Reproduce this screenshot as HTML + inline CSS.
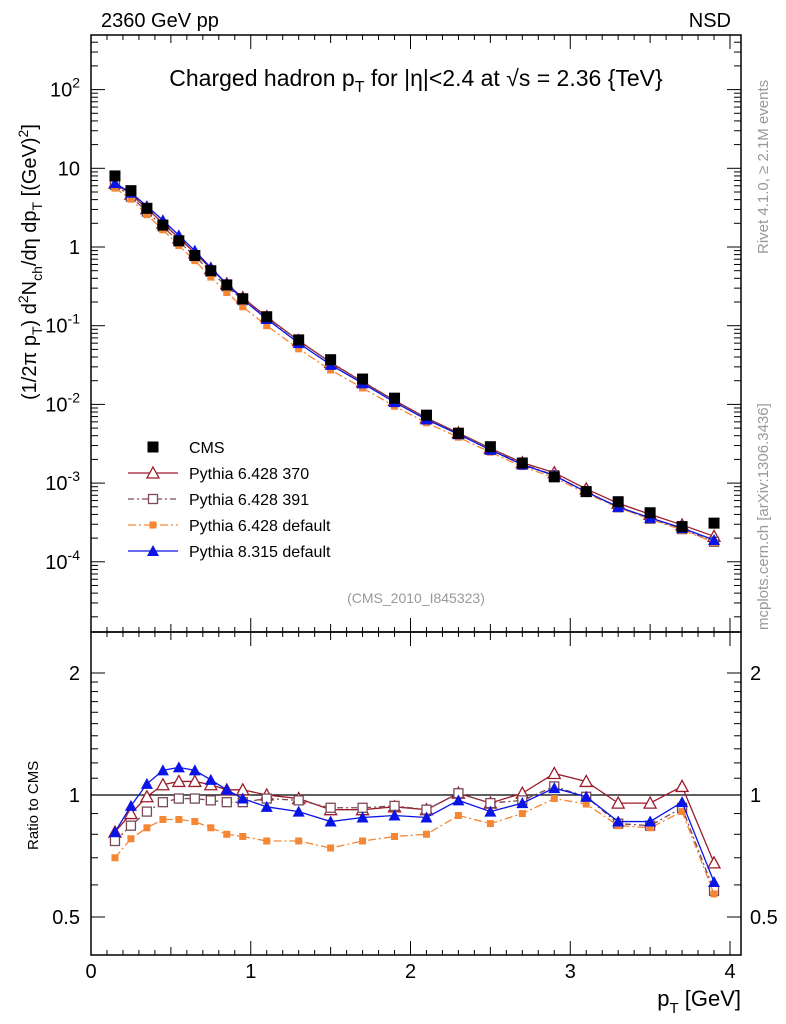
<!DOCTYPE html>
<html><head><meta charset="utf-8"><style>
body{margin:0;background:#fff}
svg{display:block;font-family:"Liberation Sans",sans-serif}
</style></head><body>
<svg id="c" width="786" height="1024" xmlns="http://www.w3.org/2000/svg"></svg>
<script>
const pt=[0.15,0.25,0.35,0.45,0.55,0.65,0.75,0.85,0.95,1.1,1.3,1.5,1.7,1.9,2.1,2.3,2.5,2.7,2.9,3.1,3.3,3.5,3.7,3.9];
const cms=[8,5.2,3.1,1.9,1.2,0.78,0.5,0.33,0.22,0.13,0.066,0.037,0.021,0.012,0.0073,0.0043,0.0029,0.0018,0.0012,0.00078,0.00058,0.00042,0.00028,0.00031];
const r370=[0.81,0.90,0.99,1.06,1.08,1.08,1.06,1.03,1.03,1.0,0.98,0.92,0.92,0.935,0.92,1.01,0.955,1.01,1.13,1.08,0.955,0.955,1.05,0.68];
const r391=[0.77,0.84,0.91,0.96,0.98,0.98,0.97,0.96,0.96,0.98,0.97,0.93,0.93,0.94,0.92,1.01,0.955,0.97,1.05,0.99,0.85,0.84,0.93,0.58];
const rdef=[0.70,0.78,0.83,0.87,0.87,0.86,0.83,0.80,0.79,0.77,0.77,0.74,0.77,0.79,0.80,0.89,0.85,0.90,0.98,0.95,0.84,0.83,0.91,0.57];
const r8=[0.81,0.94,1.065,1.15,1.17,1.15,1.09,1.03,0.98,0.935,0.91,0.86,0.88,0.89,0.88,0.97,0.91,0.955,1.04,0.99,0.86,0.86,0.96,0.61];
const xTicks=[0,1,2,3,4];
const yExp=[-4,-3,-2,-1,0,1,2];
const rTicks=[0.5,1,2];

const S=document.getElementById('c'),NS='http://www.w3.org/2000/svg';
function el(t,a,txt,p){const e=document.createElementNS(NS,t);for(const k in a)e.setAttribute(k,a[k]);if(txt!=null)e.textContent=txt;(p||S).appendChild(e);return e;}
const L=91,R=741,T=35,M=632,B=955;
const X=v=>L+v*159.75;
const Y=v=>247-Math.log10(v)*78.7;
const YR=v=>795-Math.log2(v)*122;

let f1=el('rect',{x:L,y:T,width:R-L,height:M-T,fill:'none',stroke:'#000','stroke-width':1.5});

let f2=el('rect',{x:L,y:M,width:R-L,height:B-M,fill:'none',stroke:'#000','stroke-width':1.5});


for(let i=0;i<=40;i++){const v=i/10,x=X(v);if(x>R)break;const len=i%10==0?14:(i%5==0?8:5);
 for(const [yb,ym] of [[M,T],[B,M]]){el('line',{x1:x,y1:yb,x2:x,y2:yb-len,stroke:'#000'});el('line',{x1:x,y1:ym,x2:x,y2:ym+len,stroke:'#000'});}}
xTicks.forEach(v=>{let t=el('text',{x:X(v),y:978,'font-size':20,'text-anchor':'middle'},String(v));});

for(let e=-5;e<=2;e++)for(let m=1;m<10;m++){const v=m*Math.pow(10,e),y=Y(v);if(y<T||y>M)continue;const len=m==1?14:7;
 el('line',{x1:L,y1:y,x2:L+len,y2:y,stroke:'#000'});el('line',{x1:R,y1:y,x2:R-len,y2:y,stroke:'#000'});}
yExp.forEach(e=>{const y=Y(Math.pow(10,e));let t;
 if(e==0)t=el('text',{x:80,y:y+7,'font-size':20,'text-anchor':'end'},'1');
 else if(e==1)t=el('text',{x:80,y:y+7,'font-size':20,'text-anchor':'end'},'10');
 else{t=el('text',{x:80,y:y+7,'font-size':20,'text-anchor':'end'});el('tspan',{},'10',t);el('tspan',{dy:-9,'font-size':14},String(e),t);}
 });

for(const v of [0.5,0.6,0.7,0.8,0.9,1,1.1,1.2,1.3,1.4,1.5,1.6,1.7,1.8,1.9,2]){const y=YR(v),len=(v==0.5||v==1||v==2)?14:7;
 el('line',{x1:L,y1:y,x2:L+len,y2:y,stroke:'#000'});el('line',{x1:R,y1:y,x2:R-len,y2:y,stroke:'#000'});}
rTicks.forEach(v=>{const y=YR(v);
 let t=el('text',{x:80,y:y+7,'font-size':20,'text-anchor':'end'},String(v));
 let t2=el('text',{x:750,y:y+7,'font-size':20},String(v));});
el('line',{x1:L,y1:YR(1),x2:R,y2:YR(1),stroke:'#000','stroke-width':1.2});

function tx(x,y,s,txt,name,extra){let t=el('text',Object.assign({x:x,y:y,'font-size':s},extra||{}),txt);return t;}
tx(101,27,20,'2360 GeV pp','title-left');
tx(731,27,20,'NSD','title-right',{'text-anchor':'end'});
let tt=tx(416,86,23,'','plot-title',{'text-anchor':'middle'});
tt.innerHTML='Charged hadron p<tspan dy="6" font-size="16">T</tspan><tspan dy="-6"> for |η|&lt;2.4 at √s = 2.36 {TeV}</tspan>';
tx(416,603,14,'(CMS_2010_I845323)','analysis-id',{'text-anchor':'middle',fill:'#999'});
let xt=tx(741,1006,22,'','x-axis-title',{'text-anchor':'end'});
xt.innerHTML='p<tspan dy="7" font-size="15">T</tspan><tspan dy="-7"> [GeV]</tspan>';
let yt=tx(0,0,20,'','y-axis-title',{transform:'translate(36,400) rotate(-90)'});
yt.innerHTML='(1/2π p<tspan dy="6" font-size="14">T</tspan><tspan dy="-6">) d</tspan><tspan dy="-8" font-size="14">2</tspan><tspan dy="8">N</tspan><tspan dy="6" font-size="14">ch</tspan><tspan dy="-6">/dη dp</tspan><tspan dy="6" font-size="14">T</tspan><tspan dy="-6"> [(GeV)</tspan><tspan dy="-8" font-size="14">2</tspan><tspan dy="8">]</tspan>';
tx(0,0,15,'Ratio to CMS','ratio-axis-title',{transform:'translate(38,850) rotate(-90)'});
tx(0,0,15,'Rivet 4.1.0, ≥ 2.1M events','rivet-label',{transform:'translate(768,254) rotate(-90)',fill:'#999'});
tx(0,0,15,'mcplots.cern.ch [arXiv:1306.3436]','mcplots-label',{transform:'translate(768,630) rotate(-90)',fill:'#999'});

function mark(kind,x,y,col,p){
 if(kind=='sq')return el('rect',{x:x-5.5,y:y-5.5,width:11,height:11,fill:col},null,p);
 if(kind=='osq')return el('rect',{x:x-4.5,y:y-4.5,width:9,height:9,fill:'#fff',stroke:col,'stroke-width':1.3},null,p);
 if(kind=='fsq')return el('rect',{x:x-3.5,y:y-3.5,width:7,height:7,fill:col},null,p);
 if(kind=='tri')return el('path',{d:`M${x},${y-6}L${x+6},${y+5}L${x-6},${y+5}Z`,fill:col},null,p);
 if(kind=='otri')return el('path',{d:`M${x},${y-6}L${x+6},${y+5}L${x-6},${y+5}Z`,fill:'#fff',stroke:col,'stroke-width':1.3},null,p);
}
const series=[
 {n:'pythia-6428-370',r:r370,c:'#9b1b2a',m:'otri',d:'',lab:'Pythia 6.428 370'},
 {n:'pythia-6428-391',r:r391,c:'#7a4a55',m:'osq',d:'6,3,2,3',lab:'Pythia 6.428 391'},
 {n:'pythia-6428-default',r:rdef,c:'#f58634',m:'fsq',d:'8,3,2,3',lab:'Pythia 6.428 default'},
 {n:'pythia-8315-default',r:r8,c:'#0a14e6',m:'tri',d:'',lab:'Pythia 8.315 default'}];
series.forEach(s=>{
 const g=el('g',{});
 const g2=el('g',{});
 const pm=pt.map((p,i)=>X(p)+','+Y(cms[i]*s.r[i])).join(' ');
 const pr=pt.map((p,i)=>X(p)+','+YR(s.r[i])).join(' ');
 el('polyline',{points:pm,fill:'none',stroke:s.c,'stroke-width':1.3,'stroke-dasharray':s.d},null,g);
 el('polyline',{points:pr,fill:'none',stroke:s.c,'stroke-width':1.3,'stroke-dasharray':s.d},null,g2);
 pt.forEach((p,i)=>{mark(s.m,X(p),Y(cms[i]*s.r[i]),s.c,g);mark(s.m,X(p),YR(s.r[i]),s.c,g2);});
});
const gc=el('g',{});
pt.forEach((p,i)=>mark('sq',X(p),Y(cms[i]),'#000',gc));

const lg=el('g',{});
const ent=[{lab:'CMS',m:'sq',c:'#000',d:null}].concat(series.map(s=>({lab:s.lab,m:s.m,c:s.c,d:s.d})));
ent.forEach((e,i)=>{const y=447+i*26;const ge=el('g',{},null,lg);
 if(e.d!==null)el('line',{x1:128,y1:y,x2:178,y2:y,stroke:e.c,'stroke-width':1.3,'stroke-dasharray':e.d},null,ge);
 mark(e.m,153,y,e.c,ge);el('text',{x:189,y:y+6,'font-size':16},e.lab,ge);});
</script>
</body></html>
